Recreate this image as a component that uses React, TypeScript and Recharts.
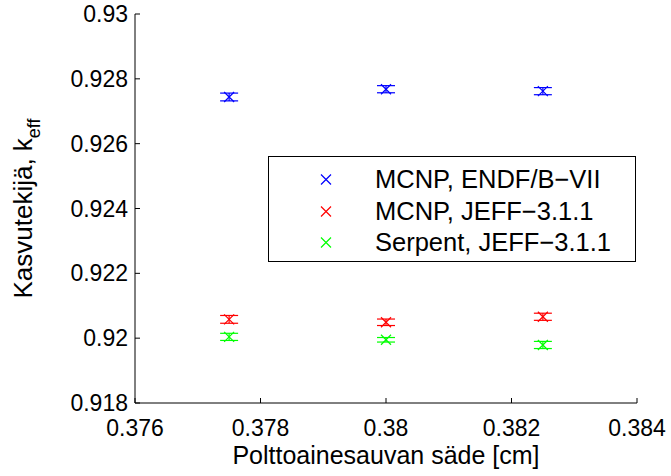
import React from 'react';
import {
  ScatterChart,
  Scatter,
  XAxis,
  YAxis,
  ErrorBar,
  Label,
} from 'recharts';

// fuel rod radius [cm]
const radii = [0.3775, 0.38, 0.3825];
const mcnpEndf = [0.92744, 0.92768, 0.92762];
const mcnpEndfErr = [0.00012, 0.00011, 0.00011];
const mcnpJeff = [0.92058, 0.92049, 0.92066];
const mcnpJeffErr = [0.00012, 0.0001, 0.00011];
const serpentJeff = [0.92004, 0.91995, 0.91979];
const serpentJeffErr = [0.00011, 0.00007, 0.00011];

const xTicks = [0.376, 0.378, 0.38, 0.382, 0.384];
const yTicks = [0.918, 0.92, 0.922, 0.924, 0.926, 0.928, 0.93];

const FONT = '"Liberation Sans", Arial, Helvetica, sans-serif';

const series = [
  { name: 'MCNP, ENDF/B\u2212VII', color: '#0000ff', values: mcnpEndf, errs: mcnpEndfErr },
  { name: 'MCNP, JEFF\u22123.1.1', color: '#ff0000', values: mcnpJeff, errs: mcnpJeffErr },
  { name: 'Serpent, JEFF\u22123.1.1', color: '#00ff00', values: serpentJeff, errs: serpentJeffErr },
];

const fmt = (v: number) => String(Number(v.toFixed(3)));

function Cross({ cx, cy, color }: { cx?: number; cy?: number; color: string }) {
  if (cx == null || cy == null) return null;
  const s = 5;
  return (
    <path
      d={`M${cx - s},${cy - s}L${cx + s},${cy + s}M${cx - s},${cy + s}L${cx + s},${cy - s}`}
      stroke={color}
      strokeWidth={1.2}
      fill="none"
    />
  );
}

function YTitle(props: any) {
  const vb = props.viewBox || {};
  const cy = (vb.y ?? 0) + (vb.height ?? 0) / 2;
  return (
    <text
      x={0}
      y={0}
      transform={`translate(32, ${cy}) rotate(-90)`}
      textAnchor="middle"
      fontFamily={FONT}
      fontSize={26}
      fill="#000"
    >
      Kasvutekijä, k
      <tspan fontSize={18} dy={8}>eff</tspan>
    </text>
  );
}

export default function App() {
  const tickStyle = { fill: '#000', fontSize: 23, fontFamily: FONT };
  const axisLine = { stroke: '#000', strokeWidth: 1 };
  const tickLine = { stroke: '#000', strokeWidth: 1 };

  return (
    <div style={{ position: 'absolute', left: 0, top: 0, width: 671, height: 476, background: '#fff' }}>
      <ScatterChart
        width={671}
        height={476}
        margin={{ top: 14, right: 34, bottom: 43, left: 55 }}
      >
        <XAxis
          xAxisId="b"
          type="number"
          dataKey="x"
          domain={[0.376, 0.384]}
          ticks={xTicks}
          tickFormatter={fmt}
          tick={tickStyle}
          tickSize={-5}
          tickMargin={22}
          height={30}
          axisLine={axisLine}
          tickLine={tickLine}
          allowDataOverflow
        >
          <Label
            value="Polttoainesauvan säde [cm]"
            position="insideBottom"
            offset={-31}
            style={{ fill: '#000', fontSize: 25, fontFamily: FONT }}
          />
        </XAxis>
        <XAxis
          xAxisId="t"
          orientation="top"
          type="number"
          domain={[0.376, 0.384]}
          ticks={xTicks}
          tick={false}
          tickSize={-5}
          height={0}
          axisLine={axisLine}
          tickLine={tickLine}
          allowDataOverflow
        />
        <YAxis
          yAxisId="l"
          type="number"
          dataKey="y"
          domain={[0.918, 0.93]}
          ticks={yTicks}
          tickFormatter={fmt}
          tick={tickStyle}
          tickSize={-5}
          tickMargin={12}
          width={80}
          axisLine={axisLine}
          tickLine={tickLine}
          allowDataOverflow
        >
          <Label content={<YTitle />} />
        </YAxis>
        <YAxis
          yAxisId="r"
          orientation="right"
          type="number"
          domain={[0.918, 0.93]}
          ticks={yTicks}
          tick={false}
          tickSize={-5}
          width={0}
          axisLine={axisLine}
          tickLine={tickLine}
          allowDataOverflow
        />
        {series.map((s) => (
          <Scatter
            key={s.name}
            name={s.name}
            xAxisId="b"
            yAxisId="l"
            data={radii.map((x, i) => ({ x, y: s.values[i], err: s.errs[i] }))}
            fill={s.color}
            shape={(p: any) => <Cross cx={p.cx} cy={p.cy} color={s.color} />}
            isAnimationActive={false}
          >
            <ErrorBar
              dataKey="err"
              direction="y"
              width={9}
              stroke={s.color}
              strokeWidth={1.2}
              isAnimationActive={false}
            />
          </Scatter>
        ))}
      </ScatterChart>
      <div
        style={{
          position: 'absolute',
          left: 268,
          top: 156,
          width: 366,
          height: 104,
          border: '1px solid #000',
          background: '#fff',
          fontFamily: FONT,
          fontSize: 25.5,
        }}
      >
        {series.map((s, i) => (
          <div
            key={s.name}
            style={{
              position: 'absolute',
              left: 0,
              top: 7 + i * 31.5,
              height: 31,
              display: 'flex',
              alignItems: 'center',
              whiteSpace: 'nowrap',
            }}
          >
            <svg width={106} height={31}>
              <Cross cx={57} cy={15.5} color={s.color} />
            </svg>
            <span>{s.name}</span>
          </div>
        ))}
      </div>
    </div>
  );
}
